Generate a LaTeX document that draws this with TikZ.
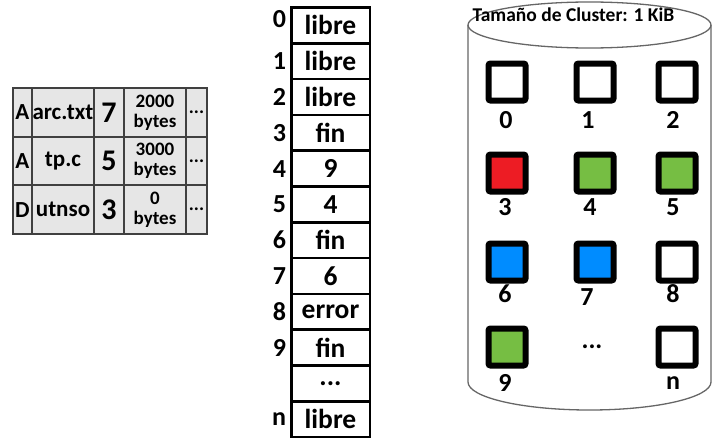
\documentclass[tikz,border=0pt]{standalone}
\usepackage{fontspec}
\setmainfont{Carlito}
\usetikzlibrary{positioning}
\definecolor{arcblue}{HTML}{008CFF}
\definecolor{tpgreen}{HTML}{76BE43}
\definecolor{utnred}{HTML}{ED1C24}
\definecolor{entrygray}{HTML}{E6E6E6}
\tikzset{
	entry/.style={
		rectangle,
		draw=black!75,
		line width=1.8pt,
		fill=entrygray,
		outer sep=0pt,
		inner sep=0pt,
		minimum height=48.7pt,
		align=center,
		font=\fontsize{23}{23}\selectfont\bfseries,
	},
	colA/.style={minimum width=19.3pt},
	colB/.style={minimum width=62pt},
	colC/.style={minimum width=30pt,font=\fontsize{30}{30}\selectfont\bfseries},
	colD/.style={minimum width=62pt,font=\fontsize{19}{20}\selectfont\bfseries},
	colE/.style={minimum width=21pt,font=\fontsize{19}{19}\selectfont\bfseries},
	fat/.style={
		rectangle,
		draw=black,
		line width=2.5pt,
		outer sep=0pt,
		inner sep=0pt,
		minimum width=78.5pt,
		minimum height=35.8pt,
		font=\fontsize{27.5}{27.5}\selectfont\bfseries,
	},
	idx/.style={
		inner sep=0pt,
		font=\fontsize{26}{26}\selectfont\bfseries,
	},
	cluster/.style={
		rectangle,
		draw=black,
		line width=6pt,
		rounded corners=2pt,
		fill=white,
		minimum size=37pt,
	},
	arcfile/.style={fill=arcblue},
	tpfile/.style={fill=tpgreen},
	utnfile/.style={fill=utnred},
	num/.style={
		inner sep=0pt,
		font=\fontsize{26}{26}\selectfont\bfseries,
	},
	disk/.style={
		draw=black!60,
		line width=1.3pt,
	}
}
\begin{document}
\begin{tikzpicture}[x=1pt,y=-1pt]
	\useasboundingbox (0,0) rectangle (725,447);

	% directory entries
	\node [entry, colA] (a1) at (22.35,112.3) {A};
	\node [entry, colB, right=0pt of a1] (b1) {arc.txt};
	\node [entry, colC, right=0pt of b1] (c1) {7};
	\node [entry, colD, right=0pt of c1] (d1) {2000\\bytes};
	\node [entry, colE, right=0pt of d1] (e1) {...};

	\node [entry, colA, below=0pt of a1] (a2) {A};
	\node [entry, colB, right=0pt of a2] (b2) {tp.c};
	\node [entry, colC, right=0pt of b2] (c2) {5};
	\node [entry, colD, right=0pt of c2] (d2) {3000\\bytes};
	\node [entry, colE, right=0pt of d2] (e2) {...};

	\node [entry, colA, below=0pt of a2] (a3) {D};
	\node [entry, colB, right=0pt of a3] (b3) {utnso};
	\node [entry, colC, right=0pt of b3] (c3) {3};
	\node [entry, colD, right=0pt of c3] (d3) {0\\bytes};
	\node [entry, colE, right=0pt of d3] (e3) {...};

	% FAT
	\node [fat] (f0) at (330.5,25.4) {libre};
	\node [fat, below=0pt of f0] (f1) {libre};
	\node [fat, below=0pt of f1] (f2) {libre};
	\node [fat, below=0pt of f2] (f3) {fin};
	\node [fat, below=0pt of f3] (f4) {9};
	\node [fat, below=0pt of f4] (f5) {4};
	\node [fat, below=0pt of f5] (f6) {fin};
	\node [fat, below=0pt of f6] (f7) {6};
	\node [fat, below=0pt of f7] (f8) {error};
	\node [fat, below=0pt of f8] (f9) {fin};
	\node [fat, below=0pt of f9] (fd) {...};
	\node [fat, below=0pt of fd] (fn) {libre};

	\node [idx, left=5pt of f0, yshift=6pt] {0};
	\node [idx, left=5pt of f1] {1};
	\node [idx, left=5pt of f2] {2};
	\node [idx, left=5pt of f3] {3};
	\node [idx, left=5pt of f4] {4};
	\node [idx, left=5pt of f5] {5};
	\node [idx, left=5pt of f6] {6};
	\node [idx, left=5pt of f7] {7};
	\node [idx, left=5pt of f8] {8};
	\node [idx, left=5pt of f9] {9};
	\node [idx, left=5pt of fn] {n};

	% disk
	\draw [disk] (468,25) -- (468,382)
		arc [start angle=180, end angle=360, x radius=121.5pt, y radius=28pt]
		-- (711,25);
	\draw [disk] (589.5,25) ellipse [x radius=121.5pt, y radius=23pt];
	\node [
		anchor=base,
		inner sep=0pt,
		font=\fontsize{19.5}{19.5}\selectfont\bfseries
	] (title) at (573.5,21) {Tamaño de Cluster: 1 KiB};

	\node [cluster] (s0) at (507,82) {};
	\node [cluster, right=45pt of s0] (s1) {};
	\node [cluster, right=39pt of s1] (s2) {};
	\node [cluster, utnfile, below=48pt of s0] (s3) {};
	\node [cluster, tpfile, below=48pt of s1] (s4) {};
	\node [cluster, tpfile, below=48pt of s2] (s5) {};
	\node [cluster, arcfile, below=46pt of s3] (s6) {};
	\node [cluster, arcfile, below=46pt of s4] (s7) {};
	\node [cluster, below=46pt of s5] (s8) {};
	\node [cluster, tpfile, below=42pt of s6] (s9) {};
	\node [cluster, below=42pt of s8] (sn) {};

	\node [num, below=8pt of s0, xshift=-1pt] {0};
	\node [num, below=8pt of s1, xshift=-7pt] {1};
	\node [num, below=8pt of s2, xshift=-4pt] {2};
	\node [num, below=4pt of s3, xshift=-2pt] {3};
	\node [num, below=4pt of s4, xshift=-5pt] {4};
	\node [num, below=4pt of s5, xshift=-4pt] {5};
	\node [num, below=1pt of s6, xshift=-2pt] {6};
	\node [num, below=5pt of s7, xshift=-8pt] {7};
	\node [num, below=1pt of s8, xshift=-4pt] {8};
	\node [num, below=6pt of s9, xshift=-2pt] {9};
	\node [num, below=8pt of sn, xshift=-4pt] {n};
	\node [num, xshift=-3pt] (dots) at (s7 |- s9) {...};
\end{tikzpicture}
\end{document}
